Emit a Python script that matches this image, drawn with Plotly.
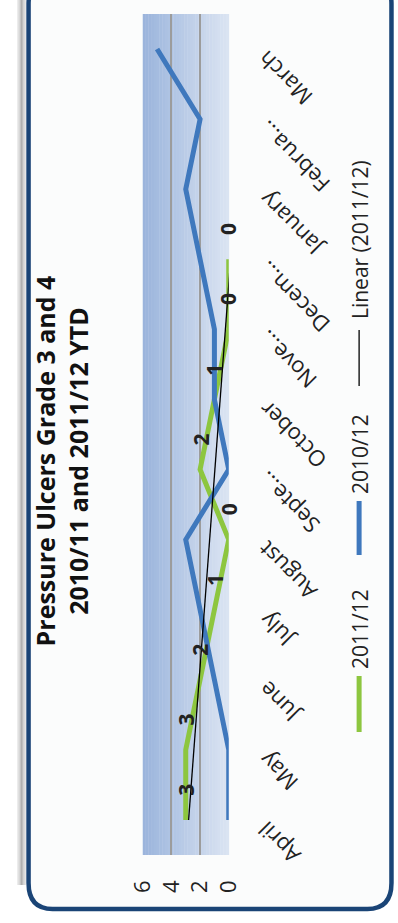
import plotly.graph_objects as go
import numpy as np

# ---------------- data ----------------
months = ["April", "May", "June", "July", "August", "September", "October",
          "November", "December", "January", "February", "March"]
month_labels = ["April", "May", "June", "July", "August", "Septe...", "October",
                "Nove...", "Decem...", "January", "Februa...", "March"]
s2011 = [3, 3, 2, 1, 0, 2, 1, 0, 0, None, None, None]
s2010 = [0, 0, 1, 2, 3, 0, 1, 1, 2, 3, 2, 5]
value_ticks = [0, 2, 4, 6]
series_names = ["2011/12", "2010/12", "Linear (2011/12)"]
title_lines = ["Pressure Ulcers Grade 3 and 4", "2010/11 and 2011/12 YTD"]

# ---------------- geometry helpers ----------------
W, H = 398, 923
def px(x):
    return x / W
def py(y):
    return 1 - y / H

GREEN = "#8DC63F"
BLUE = "#3F78BD"
FONT = "Open Sans"

# trendline (least squares on 2011/12)
idx = [i for i, v in enumerate(s2011) if v is not None]
vals = [s2011[i] for i in idx]
coef = np.polyfit(idx, vals, 1)
trend = np.polyval(coef, idx)

fig = go.Figure()
fig.add_trace(go.Scatter(x=s2011, y=months, mode="lines", name=series_names[0],
                         line=dict(color=GREEN, width=5), connectgaps=False))
fig.add_trace(go.Scatter(x=s2010, y=months, mode="lines", name=series_names[1],
                         line=dict(color=BLUE, width=5)))
fig.add_trace(go.Scatter(x=list(trend), y=[months[i] for i in idx], mode="lines",
                         name=series_names[2], line=dict(color="black", width=1.3)))

shapes = []
# left shadow
for k, c in enumerate(["#ececec", "#d6d6d6", "#c0c0c0", "#b0b0b0", "#b4b4b4", "#cccccc", "#e6e6e6"]):
    shapes.append(dict(type="rect", xref="paper", yref="paper", x0=px(k * 1.4), x1=px(k * 1.4 + 1.4),
                       y0=py(885), y1=py(0), line=dict(width=0), fillcolor=c, layer="below"))
# card with rounded corners
x0c, x1c, y0c, y1c, r = 12.5, 405, -22, 909, 26
path = (f"M {px(x0c)},{py(y0c + r)} "
        f"L {px(x0c)},{py(y1c - r)} "
        f"Q {px(x0c)},{py(y1c)} {px(x0c + r)},{py(y1c)} "
        f"L {px(x1c - r)},{py(y1c)} "
        f"Q {px(x1c)},{py(y1c)} {px(x1c)},{py(y1c - r)} "
        f"L {px(x1c)},{py(y0c + r)} "
        f"Q {px(x1c)},{py(y0c)} {px(x1c - r)},{py(y0c)} "
        f"L {px(x0c + r)},{py(y0c)} "
        f"Q {px(x0c)},{py(y0c)} {px(x0c)},{py(y0c + r)} Z")
shapes.append(dict(type="path", xref="paper", yref="paper", path=path,
                   fillcolor="#FBFCFC", line=dict(color="#1A4476", width=4.5), layer="below"))

# gradient plot background
gx0, gx1, gy0, gy1 = 136, 229, 14, 855
n = 31
c0 = np.array([0x9A, 0xB4, 0xDC])
c1 = np.array([0xDC, 0xE5, 0xF3])
for k in range(n):
    t = (k + 0.5) / n
    c = (c0 * (1 - t) + c1 * t).astype(int)
    shapes.append(dict(type="rect", xref="paper", yref="paper",
                       x0=px(gx0 + (gx1 - gx0) * k / n), x1=px(gx0 + (gx1 - gx0) * (k + 1) / n + 0.4),
                       y0=py(gy1), y1=py(gy0), line=dict(width=0),
                       fillcolor=f"rgb({c[0]},{c[1]},{c[2]})", layer="below"))

# legend
leg_x = 370
leg_items = [
    (series_names[0], GREEN, 5, 676, 732, 629),
    (series_names[1], BLUE, 5, 501, 555, 454),
    (series_names[2], "black", 1.3, 330, 386, 240),
]
annotations = []
for name, col, wdt, ya, yb, yt in leg_items:
    shapes.append(dict(type="line", xref="paper", yref="paper", x0=px(leg_x), x1=px(leg_x),
                       y0=py(ya), y1=py(yb), line=dict(color=col, width=wdt)))
    annotations.append(dict(xref="paper", yref="paper", x=px(leg_x + 1), y=py(yt), text=name,
                            showarrow=False, textangle=-90, xanchor="center", yanchor="middle",
                            font=dict(family=FONT, size=21, color="#222")))

# title
annotations.append(dict(xref="paper", yref="paper", x=px(48), y=py(461),
                        text="<br>".join(title_lines), showarrow=False, textangle=-90,
                        xanchor="center", yanchor="middle",
                        font=dict(family=FONT, size=25, color="#111", weight="bold")))

# data labels for 2011/12
for i in idx:
    annotations.append(dict(xref="x", yref="y", x=s2011[i], y=months[i], text=str(s2011[i]),
                            showarrow=False, textangle=-90, yshift=30,
                            font=dict(family=FONT, size=21, color="#222", weight="bold")))

# month labels
for m, lab in zip(months, month_labels):
    annotations.append(dict(xref="x", yref="y", x=0, y=m, text=lab, showarrow=False,
                            textangle=-135, xanchor="left", yanchor="top", xshift=20, yshift=7,
                            font=dict(family=FONT, size=22, color="#222")))

fig.update_layout(
    width=W, height=H,
    margin=dict(l=0, r=0, t=0, b=0),
    paper_bgcolor="white", plot_bgcolor="rgba(0,0,0,0)",
    showlegend=False,
    shapes=shapes, annotations=annotations,
    xaxis=dict(domain=[px(gx0), px(gx1)], range=[6, 0], tickvals=value_ticks,
               ticktext=[str(v) for v in value_ticks], tickangle=-90,
               showgrid=True, gridcolor="#9C9C9C", gridwidth=1.5, zeroline=False,
               showline=False, ticks="", ticklabelstandoff=20,
               tickfont=dict(family=FONT, size=22, color="#222")),
    yaxis=dict(domain=[py(gy1), py(gy0)], type="category", categoryorder="array",
               categoryarray=months, range=[-0.5, 11.5], showticklabels=False,
               showgrid=False, zeroline=False, showline=False, ticks=""),
)

fig.write_html("out.html")
